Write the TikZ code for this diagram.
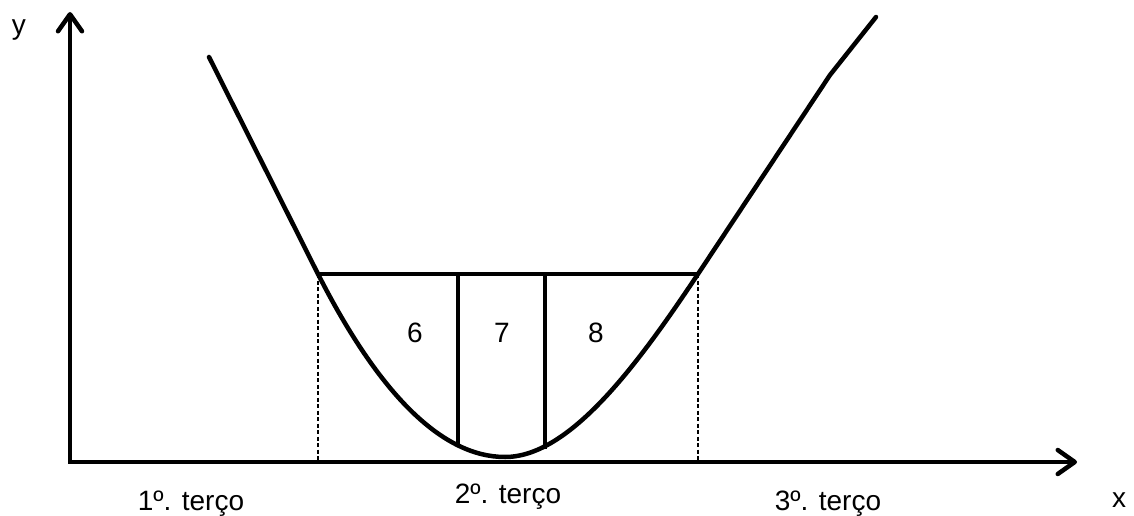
\documentclass[tikz,border=0pt]{standalone}
\usepackage{fontspec}
\setmainfont{Liberation Sans}
\usetikzlibrary{arrows.meta}
\begin{document}
\begin{tikzpicture}[x=1pt,y=-1pt,
  axis/.style={line width=4.5pt, -{Straight Barb[length=17pt,width=24pt,round]}},
  thick line/.style={line width=4.5pt, line cap=round, line join=round},
  guide/.style={line width=1.3pt, dash pattern=on 4pt off 2.5pt},
  lbl/.style={font=\fontsize{28}{32}\selectfont, inner sep=0pt, anchor=base}]
\useasboundingbox (0,0) rectangle (1134,516);
\coordinate (O) at (70,462);
\coordinate (ytip) at (70,12);
\coordinate (xtip) at (1077,462);
\coordinate (c0) at (209,57);
\coordinate (L) at (318,274);
\coordinate (M) at (505,457);
\coordinate (R) at (698,274);
\coordinate (K) at (830,75);
\coordinate (c1) at (876,17);
\coordinate (A) at (458,274);
\coordinate (Ab) at (458,446);
\coordinate (B) at (545,274);
\coordinate (Bb) at (545,449);
\coordinate (Lx) at (318,462);
\coordinate (Rx) at (698,462);
% axes
\draw[axis] (O) -- (ytip);
\draw[axis] (68,462) -- (xtip);
% dashed guides
\draw[guide] (L) -- (Lx);
\draw[guide] (R) -- (Rx);
% curve
\draw[thick line] (c0) -- (L) .. controls (380,396) and (443,457) .. (M)
  .. controls (570,457) and (638,364) .. (R) -- (K) -- (c1);
% chord and verticals
\draw[thick line, line cap=butt] (L) -- (R);
\draw[thick line, line cap=butt] (A) -- (Ab);
\draw[thick line, line cap=butt] (B) -- (Bb);
% labels
\node[lbl] (ly) at (19,35) {y};
\node[lbl] (lx) at (1119,507) {x};
\node[lbl] (n6) at (415,342) {6};
\node[lbl] (n7) at (502,342) {7};
\node[lbl] (n8) at (596,342) {8};
\node[lbl] (t1) at (191,510) {1º. terço};
\node[lbl] (t2) at (508,503) {2º. terço};
\node[lbl] (t3) at (828,510) {3º. terço};
\end{tikzpicture}
\end{document}
